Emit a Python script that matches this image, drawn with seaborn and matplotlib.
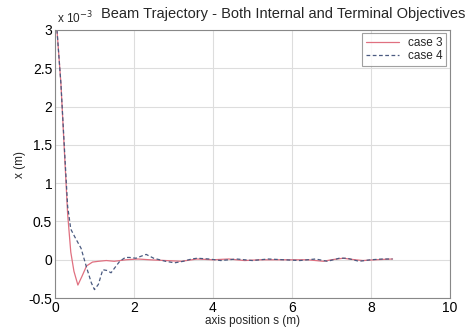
import matplotlib
matplotlib.use("Agg")
import matplotlib.pyplot as plt
import numpy as np
import pandas as pd
import seaborn as sns

# axis position s (m) and beam offset x (units of 1e-3 m)
s_case3 = [0.05, 0.15, 0.25, 0.32, 0.40, 0.48, 0.58, 0.68, 0.80, 0.95, 1.10, 1.30, 1.50, 1.80,
           2.10, 2.40, 2.80, 3.20, 3.60, 4.00, 4.40, 4.80, 5.20, 5.60, 6.00, 6.40, 6.80, 7.00,
           7.30, 7.60, 7.80, 8.10, 8.55]
x_case3 = [3.00, 2.30, 1.30, 0.60, 0.10, -0.15, -0.33, -0.22, -0.08, -0.03, -0.02, -0.01, -0.02, 0.00,
           0.01, 0.00, -0.01, -0.02, 0.01, 0.00, 0.01, -0.01, 0.00, 0.00, 0.00, 0.00, -0.02, 0.00,
           0.02, 0.00, -0.01, 0.00, 0.01]
s_case4 = [0.05, 0.15, 0.25, 0.32, 0.40, 0.50, 0.66, 0.80, 0.92, 1.00, 1.10, 1.21, 1.32, 1.42, 1.55,
           1.64, 1.78, 1.89, 2.05, 2.20, 2.31, 2.50, 2.80, 3.03, 3.25, 3.46, 3.60, 3.90, 4.20,
           4.60, 5.00, 5.40, 5.80, 6.20, 6.60, 6.90, 7.20, 7.40, 7.70, 8.00, 8.30, 8.55]
x_case4 = [3.00, 2.30, 1.35, 0.70, 0.40, 0.30, 0.15, -0.10, -0.30, -0.39, -0.32, -0.13, -0.14, -0.17, -0.08,
           -0.02, 0.03, 0.03, 0.02, 0.05, 0.07, 0.02, -0.02, -0.04, -0.02, 0.01, 0.02, 0.01, -0.01,
           0.01, -0.01, 0.01, 0.00, -0.01, 0.01, -0.02, 0.02, 0.02, -0.02, 0.00, 0.01, 0.01]

df = pd.concat([
    pd.DataFrame({"s": s_case3, "x": x_case3, "case": "case 3"}),
    pd.DataFrame({"s": s_case4, "x": x_case4, "case": "case 4"}),
])

sns.set_theme(style="whitegrid")
plt.rcParams["font.family"] = ["Liberation Sans", "DejaVu Sans"]

fig = plt.figure(figsize=(4.7, 3.29), dpi=100)
ax = fig.add_axes([0.117, 0.094, 0.840, 0.815])

sns.lineplot(data=df, x="s", y="x", hue="case", style="case",
             palette={"case 3": "#e07080", "case 4": "#4a5a80"},
             dashes={"case 3": "", "case 4": (3, 2)},
             linewidth=0.9, sort=False, ax=ax)

ax.set_xlim(0, 10)
ax.set_ylim(-0.5, 3)
ax.set_xticks(np.arange(0, 11, 2))
ax.set_yticks(np.arange(-0.5, 3.01, 0.5))
ax.set_yticklabels(["-0.5", "0", "0.5", "1", "1.5", "2", "2.5", "3"])
ax.set_facecolor("white")
ax.grid(True, color="#dddddd", linewidth=0.8)
for side in ax.spines.values():
    side.set_color("#888888")
    side.set_linewidth(0.8)
ax.tick_params(direction="in", length=3, labelsize=10, pad=2, colors="#333333",
               labelcolor="black")

ax.set_xlabel("axis position s (m)", fontsize=8.5, labelpad=0)
ax.set_ylabel("x (m)", fontsize=8.5, labelpad=2)
fig.text(0.99, 0.945, "Beam Trajectory - Both Internal and Terminal Objectives",
         fontsize=10.5, ha="right", va="baseline")
ax.text(0.005, 1.012, r"x 10$^{-3}$", transform=ax.transAxes, fontsize=8.5, ha="left", va="bottom")

leg = ax.legend(title=None, loc="upper right", fontsize=8.5, frameon=True, fancybox=False,
                handlelength=2.8, borderpad=0.3, labelspacing=0.1, borderaxespad=0.3)
leg.get_frame().set_edgecolor("#888888")
leg.get_frame().set_linewidth(0.8)

fig.savefig("out.png", dpi=100)
